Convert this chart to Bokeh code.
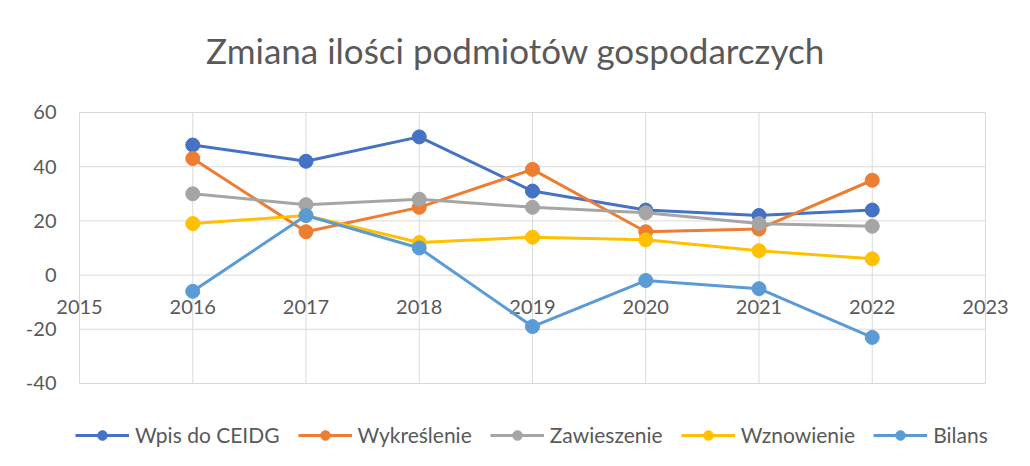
from bokeh.plotting import figure
from bokeh.models import Legend, LegendItem, Title
from bokeh.core.properties import value
from bokeh.embed import file_html
from bokeh.resources import INLINE

years = [2016, 2017, 2018, 2019, 2020, 2021, 2022]
wpis = [48, 42, 51, 31, 24, 22, 24]
wykreslenie = [43, 16, 25, 39, 16, 17, 35]
zawieszenie = [30, 26, 28, 25, 23, 19, 18]
wznowienie = [19, 22, 12, 14, 13, 9, 6]
bilans = [-6, 22, 10, -19, -2, -5, -23]

series_names = ["Wpis do CEIDG", "Wykreślenie", "Zawieszenie", "Wznowienie", "Bilans"]
series_values = [wpis, wykreslenie, zawieszenie, wznowienie, bilans]
colors = ["#4472C4", "#ED7D31", "#A5A5A5", "#FFC000", "#5B9BD5"]
x_ticks = [2015, 2016, 2017, 2018, 2019, 2020, 2021, 2022, 2023]
x_labels = [str(v) for v in x_ticks]
y_ticks = [-40, -20, 0, 20, 40, 60]
y_labels = [str(v) for v in y_ticks]

FONT = "Lato"
TXT = "#595959"
GRID = "#D9D9D9"

# The frame is padded beyond the 2015-2023 / -40..60 grid box so that the
# tick labels and the legend fit inside it; the grid is drawn from the ticks.
p = figure(width=1030, height=466, x_range=(2014.3024, 2023.3974),
           y_range=(-70.63, 65.535), output_backend="svg", toolbar_location=None,
           title=None, min_border_left=0, min_border_right=0,
           min_border_top=97, min_border_bottom=0)

t = Title(text="Zmiana ilości podmiotów gospodarczych", align="center",
          text_font=FONT, text_font_size="35px", text_color=TXT,
          text_font_style="normal", offset=14, standoff=53)
p.add_layout(t, "above")

p.outline_line_color = None
p.background_fill_color = "white"
p.border_fill_color = "white"
p.xaxis.visible = False
p.yaxis.visible = False
p.grid.visible = False

# grid box
p.segment(x0=x_ticks, x1=x_ticks, y0=[min(y_ticks)] * len(x_ticks),
          y1=[max(y_ticks)] * len(x_ticks), line_color=GRID, line_width=1)
p.segment(x0=[min(x_ticks)] * len(y_ticks), x1=[max(x_ticks)] * len(y_ticks),
          y0=y_ticks, y1=y_ticks, line_color=GRID, line_width=1)

# y tick labels left of the grid box
p.text(x=[min(x_ticks)] * len(y_ticks), y=y_ticks, text=y_labels,
       text_font=value(FONT), text_font_size="20px", text_color=TXT,
       text_align="right", text_baseline="middle", x_offset=-23)

# x tick labels sit under the zero line, as in the reference
p.text(x=x_ticks, y=[0] * len(x_ticks), text=x_labels, text_font=value(FONT),
       text_font_size="20px", text_color=TXT, text_align="center",
       text_baseline="alphabetic", y_offset=32)

items = []
for name, vals, c in zip(series_names, series_values, colors):
    l = p.line(years, vals, line_color=c, line_width=3)
    s = p.scatter(years, vals, size=14, fill_color=c, line_color=c)
    items.append(LegendItem(label=name, renderers=[l, s]))

legend = Legend(items=items, orientation="horizontal", location=(75, 19),
                label_text_font=FONT, label_text_font_size="21px",
                label_text_color=TXT, border_line_color=None,
                background_fill_alpha=0, glyph_width=54, glyph_height=24,
                label_standoff=6, spacing=18, padding=0, margin=0)
p.add_layout(legend, "center")

open("out.html", "w").write(file_html(p, INLINE))
